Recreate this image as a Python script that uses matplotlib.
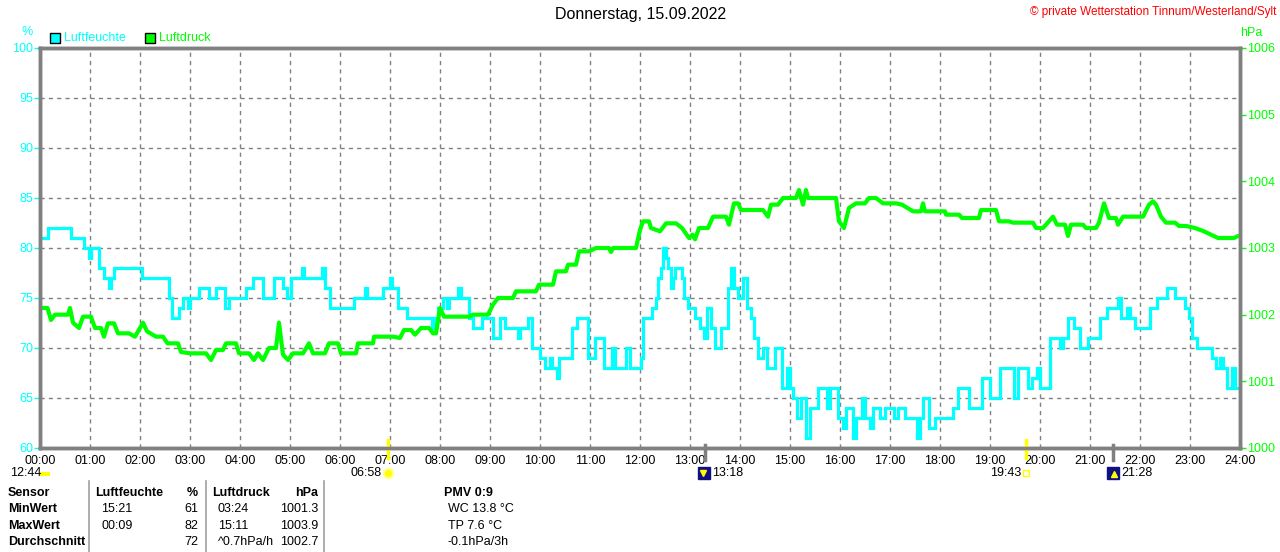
import numpy as np
import matplotlib.pyplot as plt
from matplotlib.patches import Rectangle

plt.rcParams['font.family'] = ['Liberation Sans', 'DejaVu Sans']

# Luftfeuchte (%), Stufenwerte; Zeit in Stunden
hum_t = [0.00, 0.16, 0.62, 0.87, 0.98, 1.02, 1.18, 1.27, 1.37, 1.42, 1.48, 2.04, 2.58, 2.64, 2.78,
         2.86, 2.96, 3.00, 3.18, 3.38, 3.52, 3.70, 3.78, 4.12, 4.26, 4.46, 4.68, 4.86, 4.94, 5.02,
         5.24, 5.28, 5.64, 5.70, 5.80, 6.28, 6.50, 6.54, 6.86, 7.00, 7.04, 7.16, 7.34, 7.84, 7.90,
         7.96, 8.06, 8.14, 8.18, 8.36, 8.42, 8.58, 8.66, 8.84, 9.06, 9.20, 9.30, 9.56, 9.60, 9.76,
         9.84, 10.00, 10.10, 10.20, 10.24, 10.34, 10.38, 10.64, 10.74, 10.96, 11.10, 11.28, 11.44,
         11.50, 11.72, 11.80, 12.02, 12.06, 12.24, 12.32, 12.36, 12.42, 12.46, 12.52, 12.56, 12.62,
         12.66, 12.70, 12.84, 12.88, 12.96, 13.10, 13.20, 13.28, 13.34, 13.42, 13.50, 13.62, 13.76,
         13.82, 13.88, 13.96, 14.06, 14.14, 14.22, 14.28, 14.36, 14.46, 14.54, 14.70, 14.84, 14.94,
         15.00, 15.06, 15.14, 15.22, 15.32, 15.40, 15.56, 15.74, 15.80, 15.96, 16.06, 16.12, 16.26,
         16.32, 16.44, 16.50, 16.60, 16.66, 16.80, 16.90, 17.08, 17.16, 17.30, 17.54, 17.60, 17.66,
         17.78, 17.90, 18.26, 18.36, 18.58, 18.84, 19.00, 19.20, 19.48, 19.56, 19.76, 19.84, 19.94,
         20.00, 20.20, 20.40, 20.46, 20.56, 20.68, 20.80, 20.96, 21.20, 21.34, 21.56, 21.62, 21.74,
         21.80, 21.90, 22.20, 22.34, 22.54, 22.70, 22.90, 22.98, 23.04, 23.14, 23.44, 23.52, 23.60,
         23.66, 23.74, 23.84, 23.90, 24.00]
hum_v = [81, 82, 81, 80, 79, 80, 78, 77, 76, 77, 78, 77, 75, 73, 74,
         75, 74, 75, 76, 75, 76, 74, 75, 76, 77, 75, 77, 76, 75, 77,
         78, 77, 78, 76, 74, 75, 76, 75, 76, 77, 76, 74, 73, 72, 73,
         74, 75, 74, 75, 76, 75, 73, 72, 73, 71, 73, 72, 71, 72, 73,
         70, 69, 68, 69, 68, 67, 69, 72, 73, 69, 71, 68, 70,
         68, 70, 68, 69, 73, 74, 75, 77, 78, 80, 79, 78, 76,
         77, 78, 77, 75, 74, 73, 72, 71, 74, 72, 70, 72, 76,
         78, 76, 75, 77, 74, 73, 71, 69, 70, 68, 70, 66, 68,
         66, 65, 63, 65, 61, 64, 66, 64, 66, 63, 62, 64, 61,
         63, 65, 63, 62, 64, 63, 64, 63, 64, 63, 61, 63, 65,
         62, 63, 64, 66, 64, 67, 65, 68, 65, 68, 66, 67, 68,
         66, 71, 70, 71, 73, 72, 70, 71, 73, 74, 75, 73, 74,
         73, 72, 74, 75, 76, 75, 74, 73, 71, 70, 69, 68, 69,
         68, 66, 68, 66, 66]

# Luftdruck (hPa)
pres_t = [0.00, 0.15, 0.22, 0.30, 0.56, 0.60, 0.66, 0.78, 0.86, 1.02, 1.10, 1.22, 1.28, 1.36, 1.48,
          1.56, 1.78, 1.90, 2.06, 2.14, 2.32, 2.46, 2.55, 2.76, 2.82, 3.00, 3.32, 3.42, 3.52, 3.66,
          3.72, 3.92, 3.98, 4.18, 4.28, 4.36, 4.46, 4.58, 4.72, 4.78, 4.86, 4.96, 5.06, 5.26, 5.38,
          5.46, 5.70, 5.78, 5.96, 6.02, 6.32, 6.36, 6.66, 6.68, 7.06, 7.20, 7.28, 7.42, 7.50, 7.62,
          7.78, 7.86, 7.92, 8.00, 8.08, 8.58, 8.66, 8.96, 9.06, 9.16, 9.46, 9.52, 9.92, 9.98, 10.26,
          10.32, 10.52, 10.56, 10.72, 10.78, 10.98, 11.12, 11.38, 11.42, 11.46, 11.92, 12.00, 12.06,
          12.18, 12.22, 12.40, 12.52, 12.72, 12.84, 12.98, 13.05, 13.10, 13.18, 13.36, 13.46, 13.72,
          13.78, 13.88, 13.96, 14.02, 14.46, 14.56, 14.62, 14.76, 14.86, 15.12, 15.18, 15.26, 15.32,
          15.36, 15.92, 15.98, 16.08, 16.18, 16.32, 16.50, 16.58, 16.72, 16.86, 17.12, 17.24, 17.46,
          17.62, 17.66, 17.70, 18.10, 18.12, 18.38, 18.44, 18.78, 18.82, 19.12, 19.18, 19.38, 19.46,
          19.86, 19.92, 20.06, 20.26, 20.34, 20.50, 20.56, 20.62, 20.86, 20.92, 21.12, 21.18, 21.28,
          21.38, 21.52, 21.56, 21.66, 22.06, 22.18, 22.26, 22.32, 22.42, 22.52, 22.70, 22.78, 22.92,
          23.10, 23.28, 23.56, 23.72, 23.88, 23.96, 24.00]
pres_v = [1002.10, 1002.10, 1001.92, 1002.00, 1002.00, 1002.10, 1001.88, 1001.80, 1001.97, 1001.97,
          1001.80, 1001.80, 1001.67, 1001.87, 1001.87, 1001.72, 1001.72, 1001.67, 1001.88, 1001.75,
          1001.67, 1001.67, 1001.57, 1001.57, 1001.44, 1001.42, 1001.42, 1001.32, 1001.47, 1001.47,
          1001.57, 1001.57, 1001.42, 1001.42, 1001.32, 1001.42, 1001.32, 1001.50, 1001.50, 1001.88,
          1001.40, 1001.32, 1001.42, 1001.42, 1001.57, 1001.42, 1001.42, 1001.57, 1001.57, 1001.42,
          1001.42, 1001.57, 1001.57, 1001.67, 1001.67, 1001.65, 1001.77, 1001.77, 1001.70, 1001.80,
          1001.80, 1001.72, 1001.72, 1002.10, 1001.97, 1001.97, 1002.00, 1002.00, 1002.15, 1002.25,
          1002.25, 1002.35, 1002.35, 1002.45, 1002.45, 1002.65, 1002.65, 1002.75, 1002.75, 1002.95,
          1002.95, 1003.00, 1003.00, 1002.94, 1003.00, 1003.00, 1003.27, 1003.40, 1003.40, 1003.30,
          1003.25, 1003.37, 1003.37, 1003.30, 1003.15, 1003.20, 1003.13, 1003.30, 1003.30, 1003.47,
          1003.47, 1003.35, 1003.67, 1003.67, 1003.57, 1003.57, 1003.47, 1003.65, 1003.65, 1003.75,
          1003.75, 1003.87, 1003.65, 1003.87, 1003.75, 1003.75, 1003.40, 1003.30, 1003.60, 1003.67,
          1003.67, 1003.75, 1003.75, 1003.67, 1003.67, 1003.65, 1003.55, 1003.55, 1003.67, 1003.55,
          1003.55, 1003.50, 1003.50, 1003.45, 1003.45, 1003.57, 1003.57, 1003.40, 1003.40, 1003.38,
          1003.38, 1003.30, 1003.30, 1003.47, 1003.35, 1003.35, 1003.18, 1003.35, 1003.35, 1003.30,
          1003.30, 1003.38, 1003.67, 1003.45, 1003.45, 1003.35, 1003.47, 1003.47, 1003.65, 1003.70,
          1003.65, 1003.47, 1003.38, 1003.38, 1003.33, 1003.33, 1003.30, 1003.25, 1003.15, 1003.15,
          1003.15, 1003.18, 1003.18]

hours = list(range(25))
hour_labels = ['%02d:00' % h for h in hours]
hum_ticks = list(range(60, 101, 5))
pres_ticks = list(range(1000, 1007))

# Sonne / Mond (Stunden, Text)
moon_set_t, moon_set_s = 13 + 18 / 60, '13:18'
moon_rise_t, moon_rise_s = 21 + 28 / 60, '21:28'
sun_rise_t, sun_rise_s = 6 + 58 / 60, '06:58'
sun_set_t, sun_set_s = 19 + 43 / 60, '19:43'

table_rows = [
    ['Sensor', 'Luftfeuchte', '%', 'Luftdruck', 'hPa', 'PMV 0:9'],
    ['MinWert', '15:21', '61', '03:24', '1001.3', 'WC 13.8 °C'],
    ['MaxWert', '00:09', '82', '15:11', '1003.9', 'TP 7.6 °C'],
    ['Durchschnitt', '', '72', '^0.7hPa/h', '1002.7', '-0.1hPa/3h'],
]

CYAN = '#00ffff'
GREEN = '#00ff00'
GRAY = '#808080'
YELLOW = '#ffff00'

W, H = 1280, 552
def fx(x): return x / W
def fy(y): return 1 - y / H

fig = plt.figure(figsize=(12.8, 5.52), dpi=100)
ax = fig.add_axes([fx(40), fy(448), fx(1240) - fx(40), fy(48) - fy(448)])
ax2 = ax.twinx()

ax.step(hum_t, hum_v, where='post', color=CYAN, lw=2.3, solid_joinstyle='miter')
ax2.plot(pres_t, pres_v, color=GREEN, lw=3)

ax.set_xlim(0, 24)
ax.set_ylim(60, 100)
ax2.set_ylim(1000, 1006)
ax.set_xticks(hours)
ax.set_xticklabels(hour_labels)
ax.set_yticks(hum_ticks)
ax2.set_yticks(pres_ticks)
ax.grid(True, color=GRAY, ls=(0, (3, 3)), lw=1)

for a in (ax, ax2):
    for s in a.spines.values():
        s.set_color(GRAY)
        s.set_linewidth(2.5)

ax.tick_params(axis='x', length=0, pad=5, labelsize=9, colors='black')
ax.tick_params(axis='y', colors=CYAN, length=4, width=1, labelsize=9, pad=1)
ax2.tick_params(axis='y', colors=GREEN, length=4, width=1, labelsize=9, pad=1)

# Sonnenauf-/untergang und Mondauf-/untergang an der Zeitachse
for t, c, y0, y1 in [(sun_rise_t, YELLOW, 59.0, 60.8), (sun_set_t, YELLOW, 59.0, 60.8),
                     (moon_set_t, GRAY, 58.8, 60.3), (moon_rise_t, GRAY, 58.8, 60.3)]:
    ax.plot([t, t], [y0, y1], color=c, lw=2.5, clip_on=False, zorder=5)

fig.text(fx(641), fy(15), 'Donnerstag, 15.09.2022', ha='center', va='center', fontsize=11.5)
fig.text(fx(1276), fy(12), '© private Wetterstation Tinnum/Westerland/Sylt', ha='right',
         va='center', fontsize=8.5, color='red')
fig.text(fx(27), fy(32), '%', ha='center', va='center', fontsize=9, color=CYAN)
fig.text(fx(1251), fy(33), 'hPa', ha='center', va='center', fontsize=9, color=GREEN)

# Legende
for x0, col, lab in [(50, CYAN, 'Luftfeuchte'), (145, GREEN, 'Luftdruck')]:
    fig.patches.append(Rectangle((fx(x0), fy(43)), fx(10), 10 / H, facecolor=col,
                                 edgecolor='black', lw=1, transform=fig.transFigure))
    fig.text(fx(x0 + 14), fy(38), lab, ha='left', va='center', fontsize=9, color=col)

# Zeiten Sonne / Mond
fig.text(fx(10), fy(473), '12:44', ha='left', va='center', fontsize=9)
fig.patches.append(Rectangle((fx(40), fy(476)), fx(10), 4 / H, facecolor=YELLOW,
                             edgecolor='none', transform=fig.transFigure))
fig.text(fx(382), fy(473), sun_rise_s, ha='right', va='center', fontsize=9)
ax.plot([sun_rise_t], [57.5], marker='o', ms=7, color=YELLOW, mec='#ffffa0', mew=1.5,
        clip_on=False, zorder=5)
ax.plot([moon_set_t - 0.03], [57.5], marker='s', ms=8, color='#101080', clip_on=False, zorder=5)
ax.plot([moon_set_t - 0.05], [57.5], marker='v', ms=4, color=YELLOW, clip_on=False, zorder=6)
fig.text(fx(712), fy(473), moon_set_s, ha='left', va='center', fontsize=9)
fig.text(fx(1021), fy(473), sun_set_s, ha='right', va='center', fontsize=9)
ax.plot([sun_set_t], [57.5], marker='s', ms=5, mfc='none', mec=YELLOW, mew=1,
        clip_on=False, zorder=5)
ax.plot([moon_rise_t], [57.5], marker='s', ms=8, color='#101080', clip_on=False, zorder=5)
ax.plot([moon_rise_t + 0.02], [57.4], marker='^', ms=4, color=YELLOW, clip_on=False, zorder=6)
fig.text(fx(1121), fy(473), moon_rise_s, ha='left', va='center', fontsize=9)

# Tabelle
row_y = [493, 509, 526, 542]
col_x = [8, 95, 198, 212, 318, 468]
col_ha = ['left', 'left', 'right', 'left', 'right', 'center']
for r, row in enumerate(table_rows):
    for c, txt in enumerate(row):
        bold = (r == 0) or (c == 0)
        x = col_x[c]
        if r > 0 and c in (1, 3):
            x += 6
        if r > 0 and c == 5:
            x = 448
            ha = 'left'
        else:
            ha = col_ha[c]
        fig.text(fx(x), fy(row_y[r]), txt, ha=ha, va='center', fontsize=9,
                 fontweight='bold' if bold else 'normal')
for xs in (89, 206, 324):
    fig.add_artist(plt.Line2D([fx(xs), fx(xs)], [fy(481), fy(552)], color='#a0a0a0', lw=1.2))

fig.savefig('out.png', dpi=100)
